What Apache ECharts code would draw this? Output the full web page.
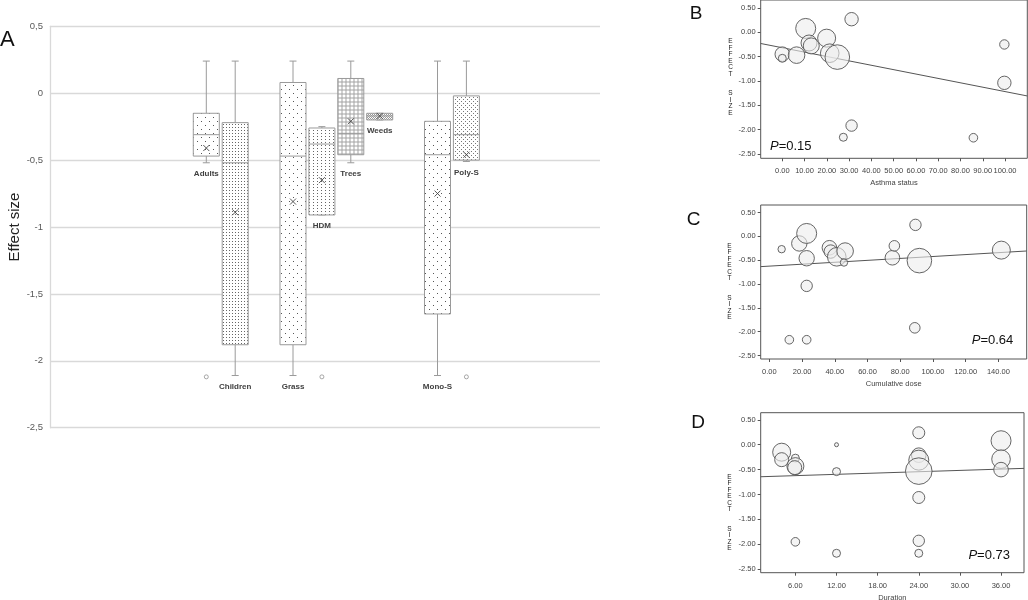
<!DOCTYPE html>
<html>
<head>
<meta charset="utf-8">
<script src="https://cdn.jsdelivr.net/npm/echarts@6/dist/echarts.min.js"></script>
<style>
html, body { margin: 0; padding: 0; background: #fff; }
#main { width: 1028px; height: 600px; }
</style>
</head>
<body>
<div id="main"></div>
<script>
// panel A - box plots (blank entries are the gaps between groups)
var groups = ['Adults', 'Children', '', 'Grass', 'HDM', 'Trees', 'Weeds', '', 'Mono-S', 'Poly-S'];
var whiskerLow = [-0.52, -2.11, null, -2.11, -0.91, -0.52, -0.20, null, -2.11, -0.51];
var quart1 = [-0.47, -1.88, null, -1.88, -0.91, -0.46, -0.20, null, -1.65, -0.50];
var medians = [-0.31, -0.52, null, -0.47, -0.38, -0.30, -0.17, null, -0.46, -0.31];
var quart3 = [-0.15, -0.22, null, 0.08, -0.26, 0.11, -0.15, null, -0.21, -0.02];
var whiskerHigh = [0.24, 0.24, null, 0.24, -0.25, 0.24, -0.15, null, 0.24, 0.24];
var means = [-0.41, -0.89, null, -0.81, -0.65, -0.21, -0.17, null, -0.75, -0.46];
var outlierGroups = ['Adults', 'HDM', 'Poly-S'];
var outlierValues = [-2.12, -2.12, -2.12];

// panel B
var asthmaStatus = [0, 0, 6.4, 10.5, 12, 13, 19.9, 21.3, 24.7, 31.1, 31.1, 27.4, 85.8, 99.7, 99.7];
var effectB = [-0.45, -0.535, -0.47, 0.08, -0.22, -0.28, -0.12, -0.43, -0.51, 0.27, -1.92, -2.16, -2.17, -0.25, -1.04];
var weightB = [7.3, 4, 8.3, 10, 8, 8, 9, 9.3, 12.3, 6.7, 5.7, 4, 4.3, 4.7, 6.7];
var fitB = [[-9.7, -0.23], [110, -1.31]];

// panel C
var cumDose = [7.5, 18.3, 22.8, 22.8, 22.8, 12.2, 22.8, 36.7, 37.5, 41.2, 46.3, 45.6, 75.2, 76.4, 89.3, 91.7, 88.9, 141.8];
var effectC = [-0.27, -0.15, 0.06, -0.46, -1.04, -2.17, -2.17, -0.24, -0.32, -0.43, -0.31, -0.55, -0.45, -0.20, 0.24, -0.51, -1.92, -0.29];
var weightC = [3.7, 7.7, 10, 7.7, 5.7, 4.3, 4.3, 7.3, 6.7, 9.3, 8.3, 3.7, 7.3, 5.3, 5.7, 12.3, 5.3, 9];
var fitC = [[-5.3, -0.636], [157.3, -0.308]];

// panel D
var duration = [4, 4, 6, 6, 5.9, 6, 12, 12, 12, 24, 24, 24, 24, 24, 24, 24, 36, 36, 36];
var effectD = [-0.15, -0.30, -0.27, -0.43, -0.46, -1.95, 0.0, -0.54, -2.18, 0.24, -0.21, -0.31, -0.53, -1.06, -1.93, -2.18, 0.08, -0.29, -0.50];
var weightD = [9, 7, 4, 8.5, 7, 4.3, 2, 4, 4, 6, 7.3, 10, 13.3, 6, 5.7, 4, 10, 9.3, 7.3];
var fitD = [[0.94, -0.643], [39.35, -0.475]];

var ticksB = [0, 10, 20, 30, 40, 50, 60, 70, 80, 90, 100];
var ticksC = [0, 20, 40, 60, 80, 100, 120, 140];
var ticksD = [6, 12, 18, 24, 30, 36];
var effectTicks = [0.5, 0, -0.5, -1, -1.5, -2, -2.5];

var FONT = 'Liberation Sans';

// little canvas tiles for the dotted box fills
function tile(w, h, draw) {
    var c = document.createElement('canvas');
    c.width = w; c.height = h;
    var ctx = c.getContext('2d');
    ctx.fillStyle = '#fff';
    ctx.fillRect(0, 0, w, h);
    draw(ctx);
    return { image: c, repeat: 'repeat' };
}
function dots(w, h, pts, col) {
    return tile(w, h, function (ctx) {
        ctx.fillStyle = col;
        pts.forEach(function (p) { ctx.fillRect(p[0], p[1], 1, 1); });
    });
}
var sparse = dots(8, 8, [[1, 1], [5, 5]], '#555');
var dense = dots(3, 3, [[1, 1]], '#666');
var medium = dots(4, 3, [[1, 1]], '#666');
var fine = dots(4, 4, [[1, 1], [3, 3]], '#777');
var rings = tile(4, 4, function (ctx) {
    ctx.strokeStyle = '#777';
    ctx.lineWidth = 0.7;
    ctx.beginPath();
    ctx.arc(2, 2, 1.2, 0, Math.PI * 2);
    ctx.stroke();
});
var hatch = dots(2, 2, [[0, 0], [1, 1]], '#999');
var fills = {
    'Adults': sparse, 'Children': dense, 'Grass': sparse, 'HDM': medium,
    'Trees': rings, 'Weeds': hatch, 'Mono-S': sparse, 'Poly-S': fine
};

var boxRows = [];
groups.forEach(function (g, i) {
    if (!g) return;
    boxRows.push([i, whiskerLow[i], quart1[i], medians[i], quart3[i], whiskerHigh[i], means[i]]);
});

function renderBox(params, api) {
    var i = api.value(0);
    var xc = api.coord([i, 0])[0];
    var hw = api.size([1, 0])[0] * 0.45;
    var y = function (d) { return api.coord([i, api.value(d)])[1]; };
    var yLo = y(1), yQ1 = y(2), yMed = y(3), yQ3 = y(4), yHi = y(5), yMean = y(6);
    var grey = '#9a9a9a';
    var line = function (x1, y1, x2, y2, col, w) {
        return { type: 'line', shape: { x1: x1, y1: y1, x2: x2, y2: y2 }, style: { stroke: col || grey, lineWidth: w || 1 } };
    };
    var cap = 3.5;
    var kids = [
        line(xc, yHi, xc, yQ3),
        line(xc - cap, yHi, xc + cap, yHi),
        line(xc, yQ1, xc, yLo),
        line(xc - cap, yLo, xc + cap, yLo),
        { type: 'rect', shape: { x: xc - hw, y: yQ3, width: hw * 2, height: Math.max(yQ1 - yQ3, 1) },
          style: { fill: fills[groups[i]], stroke: grey, lineWidth: 1 } },
        line(xc - hw, yMed, xc + hw, yMed),
        line(xc - 3, yMean - 3, xc + 3, yMean + 3, '#444', 0.9),
        line(xc - 3, yMean + 3, xc + 3, yMean - 3, '#444', 0.9),
        { type: 'text', x: xc, y: Math.max(yLo, yQ1) + 11,
          style: { text: groups[i], textAlign: 'center', textVerticalAlign: 'middle',
                   fontFamily: FONT, fontSize: 8, fontWeight: 'bold', fill: '#404040' } }
    ];
    return { type: 'group', children: kids };
}

function scatterAxes(gi, xmin, xmax, ymin, ymax, xTicks, xName) {
    var lab = { fontFamily: FONT, fontSize: 7.5, color: '#444' };
    return {
        x: {
            type: 'value', gridIndex: gi, min: xmin, max: xmax, position: 'bottom',
            axisLine: { show: false, onZero: false }, splitLine: { show: false },
            axisTick: { show: true, length: 3, customValues: xTicks, lineStyle: { color: '#555' } },
            axisLabel: Object.assign({ customValues: xTicks, margin: 9, formatter: function (v) { return v.toFixed(2); } }, lab),
            name: xName, nameLocation: 'middle', nameGap: 21, nameMoveOverlap: false,
            nameTextStyle: { fontFamily: FONT, fontSize: 7.5, color: '#444' }
        },
        y: {
            type: 'value', gridIndex: gi, min: ymin, max: ymax, position: 'left',
            axisLine: { show: false, onZero: false }, splitLine: { show: false },
            axisTick: { show: true, length: 3, customValues: effectTicks, lineStyle: { color: '#555' } },
            axisLabel: Object.assign({ customValues: effectTicks, margin: 5, formatter: function (v) { return v.toFixed(2); } }, lab)
        }
    };
}

function bubbles(gi, xs, ys, ws) {
    return {
        type: 'scatter', xAxisIndex: gi, yAxisIndex: gi, z: 3,
        data: xs.map(function (x, k) { return [x, ys[k], ws[k]]; }),
        symbolSize: function (d) { return d[2] * 2; },
        itemStyle: { color: 'rgba(236,236,236,0.6)', borderColor: '#555', borderWidth: 0.9, opacity: 1 },
        emphasis: { disabled: true }
    };
}
function fitLine(gi, pts) {
    return {
        type: 'line', xAxisIndex: gi, yAxisIndex: gi, z: 2, data: pts, symbol: 'none',
        lineStyle: { color: '#555', width: 1 }, silent: true
    };
}

var axB = scatterAxes(2, -9.7, 110, -2.593, 0.665, ticksB, 'Asthma status');
var axC = scatterAxes(3, -5.3, 157.3, -2.574, 0.657, ticksC, 'Cumulative dose');
var axD = scatterAxes(4, 0.94, 39.35, -2.57, 0.643, ticksD, 'Duration');

var frame = { show: true, borderColor: '#555', borderWidth: 1, backgroundColor: 'transparent', outerBoundsMode: 'none' };

var vertical = 'E\nF\nF\nE\nC\nT\n\n\nS\nI\nZ\nE';
function vText(x, y) {
    return { type: 'text', x: x, y: y,
        style: { text: vertical, textAlign: 'center', textVerticalAlign: 'top', lineHeight: 6.5,
                 fontFamily: FONT, fontSize: 6.5, fill: '#222' } };
}
function letter(t, x, y, size) {
    return { type: 'text', x: x, y: y,
        style: { text: t, textAlign: 'center', textVerticalAlign: 'middle', fontFamily: FONT, fontSize: size, fill: '#111' } };
}
function pText(t, x, y, align) {
    return { type: 'text', x: x, y: y,
        style: { text: '{i|P}=' + t, textAlign: align, textVerticalAlign: 'middle', fontFamily: FONT, fontSize: 13, fill: '#111',
                 rich: { i: { fontStyle: 'italic', fontFamily: FONT, fontSize: 13 } } } };
}

var option = {
    animation: false,
    backgroundColor: '#fff',
    grid: [
        { left: 50, top: 26.3, width: 550, height: 401.4, outerBoundsMode: 'none' },
        { left: 191.85, top: 26.3, width: 289, height: 401.4, outerBoundsMode: 'none' },
        Object.assign({ left: 760.7, right: 0.7, top: 0, bottom: 441.7 }, frame),
        Object.assign({ left: 760.7, right: 1.3, top: 205, bottom: 241 }, frame),
        Object.assign({ left: 760.7, right: 4, top: 412.7, bottom: 27.3 }, frame)
    ],
    xAxis: [
        { type: 'value', gridIndex: 0, min: 0, max: 1, show: false },
        { type: 'category', gridIndex: 1, data: groups, show: false },
        axB.x, axC.x, axD.x
    ],
    yAxis: [
        {
            type: 'value', gridIndex: 0, min: -2.5, max: 0.5, interval: 0.5,
            axisLine: { show: true, lineStyle: { color: '#d9d9d9', width: 1.3 } },
            axisTick: { show: false },
            splitLine: { lineStyle: { color: '#d9d9d9', width: 1.3 } },
            axisLabel: { fontFamily: FONT, fontSize: 9.5, color: '#595959', margin: 7,
                         formatter: function (v) { return String(v).replace('.', ','); } },
            name: 'Effect size', nameLocation: 'middle', nameGap: 28, nameMoveOverlap: false,
            nameTextStyle: { fontFamily: FONT, fontSize: 15, color: '#222' }
        },
        { type: 'value', gridIndex: 1, min: -2.5, max: 0.5, show: false },
        axB.y, axC.y, axD.y
    ],
    series: [
        {
            type: 'custom', xAxisIndex: 1, yAxisIndex: 1, data: boxRows, renderItem: renderBox, z: 3, silent: true
        },
        {
            type: 'scatter', xAxisIndex: 1, yAxisIndex: 1, z: 4, symbol: 'circle', symbolSize: 4,
            data: outlierGroups.map(function (g, k) { return [groups.indexOf(g), outlierValues[k]]; }),
            itemStyle: { color: '#fff', borderColor: '#777', borderWidth: 0.8 }, silent: true
        },
        fitLine(2, fitB), bubbles(2, asthmaStatus, effectB, weightB),
        fitLine(3, fitC), bubbles(3, cumDose, effectC, weightC),
        fitLine(4, fitD), bubbles(4, duration, effectD, weightD)
    ],
    graphic: [
        { type: 'text', left: 0, top: 29, style: { text: 'A', fontFamily: FONT, fontSize: 22, fill: '#111' } },
        letter('B', 696, 14, 19),
        letter('C', 693.5, 219.5, 19),
        letter('D', 698, 422.5, 19),
        vText(730.5, 38),
        vText(729.5, 242.5),
        vText(729.5, 473.5),
        pText('0.15', 770, 146.7, 'left'),
        pText('0.64', 1013.3, 340.7, 'right'),
        pText('0.73', 1010, 555.7, 'right')
    ]
};

var myChart = echarts.init(document.getElementById('main'));
myChart.setOption(option);
</script>
</body>
</html>
